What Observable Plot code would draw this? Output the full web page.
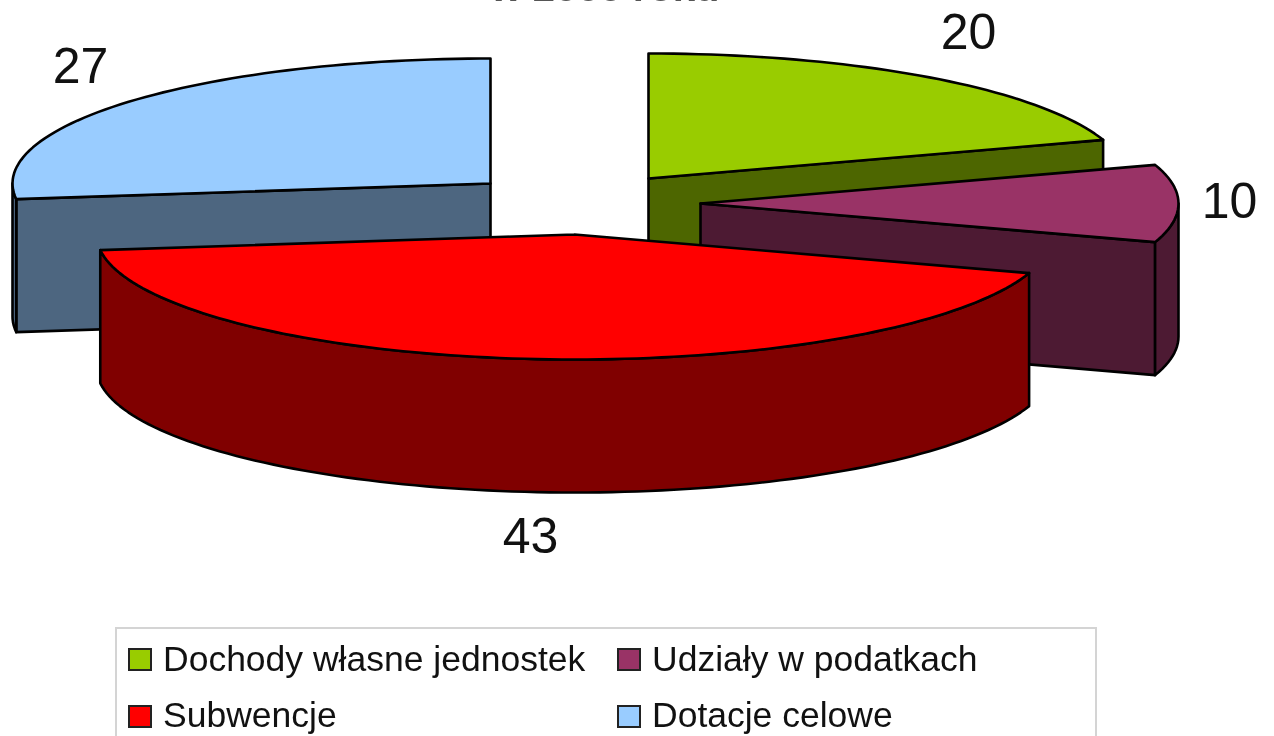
<!DOCTYPE html>
<html lang="pl">
<head>
<meta charset="utf-8">
<script src="https://cdn.jsdelivr.net/npm/d3@7"></script>
<script src="https://cdn.jsdelivr.net/npm/@observablehq/plot@0.6"></script>
<style>
html,body{margin:0;padding:0;background:#fff;overflow:hidden;width:1274px;height:736px;font-family:"Liberation Sans",Arial,sans-serif;color:#111}
#page{position:relative;width:1274px;height:736px;overflow:hidden;filter:blur(.6px)}
#title{position:absolute;left:405px;width:400px;text-align:center;top:-36px;font-size:40px;font-weight:bold;line-height:46px;color:#555}
#chart{position:absolute;left:0;top:0}
#legend{position:absolute;left:115px;top:627px;width:978px;height:130px;border:2px solid #d4d4d4;box-sizing:content-box;background:#fff}
.sw{position:absolute;width:20px;height:19px;border:2px solid #222}
.lb{position:absolute;font-size:35.5px;line-height:38px;white-space:nowrap}
</style>
</head>
<body>
<div id="page">
<div id="title">w 2000 roku</div>
<div id="chart"></div>
<div id="legend"></div>
</div>
<script>
const categories = ["Dochody własne jednostek", "Udziały w podatkach", "Subwencje", "Dotacje celowe"];
const values = [20, 10, 43, 27];
const topColors = ["#99cc00", "#993366", "#ff0000", "#99ccff"];
const wallColors = ["#4d6600", "#4d1a33", "#800000", "#4d6680"];

// Layout of the exploded 3-D pie
const apexes = [[648, 178], [700, 203], [574, 234], [490, 183]];
const labelAt = [[968, 32], [1229, 201], [530, 536], [80, 66]];
const legendAt = [[0, 0], [1, 0], [0, 1], [1, 1]];
const RX = 478, RY = 125, DEPTH = 133, W = 1274, H = 627;
const drawOrder = [3, 0, 1, 2];

const total = d3.sum(values);
const cum = d3.cumsum(values);
const slices = values.map((v, i) => ({
  i, a0: (cum[i] - v) / total * 360, a1: cum[i] / total * 360, apex: apexes[i]
}));

const rim = (s, deg, dz = 0) => {
  const r = deg * Math.PI / 180;
  return {x: s.apex[0] + RX * Math.sin(r), y: s.apex[1] - RY * Math.cos(r) + dz};
};
const arc = (s, a0, a1, dz = 0) => {
  const out = [];
  for (let a = a0; a < a1; a += 1.5) out.push(rim(s, a, dz));
  out.push(rim(s, a1, dz));
  return out;
};
const closed = pts => [...pts, pts[0]];
const face = (pts, fill) =>
  Plot.line(closed(pts), {x: "x", y: "y", fill, stroke: "#000", strokeWidth: 2.6, strokeLinejoin: "round", curve: "linear"});

const marks = [];
for (const k of drawOrder) {
  const s = slices[k];
  const A = {x: s.apex[0], y: s.apex[1]};
  const Ad = {x: s.apex[0], y: s.apex[1] + DEPTH};
  if (s.a1 < 180) marks.push(face([A, rim(s, s.a1), rim(s, s.a1, DEPTH), Ad], wallColors[k]));
  if (s.a0 > 180) marks.push(face([A, rim(s, s.a0), rim(s, s.a0, DEPTH), Ad], wallColors[k]));
  const lo = Math.max(s.a0, 90), hi = Math.min(s.a1, 270);
  if (hi > lo) marks.push(face([...arc(s, lo, hi), ...arc(s, lo, hi, DEPTH).reverse()], wallColors[k]));
  marks.push(face([A, ...arc(s, s.a0, s.a1)], topColors[k]));
}
const labelRows = values.map((v, i) => ({v: String(v), x: labelAt[i][0], y: labelAt[i][1]}));
marks.push(Plot.text(labelRows, {x: "x", y: "y", text: "v", fontSize: 50, fill: "#111", fontFamily: "Liberation Sans", textAnchor: "middle", lineAnchor: "middle"}));

const plot = Plot.plot({
  width: W, height: H + 40, margin: 0,
  x: {domain: [0, W], range: [0, W], axis: null},
  y: {domain: [0, H + 40], range: [0, H + 40], axis: null},
  style: {background: "transparent", overflow: "hidden"},
  marks
});
document.getElementById("chart").append(plot);

const legend = document.getElementById("legend");
const colX = [[11, 46], [500, 535]], rowY = [[19, 11], [76, 67]];
categories.forEach((c, i) => {
  const [cx, ry] = legendAt[i];
  const sw = document.createElement("div");
  sw.className = "sw";
  sw.style.cssText = `left:${colX[cx][0]}px;top:${rowY[ry][0]}px;background:${topColors[i]}`;
  const lb = document.createElement("div");
  lb.className = "lb";
  lb.textContent = c;
  lb.style.cssText = `left:${colX[cx][1]}px;top:${rowY[ry][1]}px`;
  legend.append(sw, lb);
});
</script>
</body>
</html>
